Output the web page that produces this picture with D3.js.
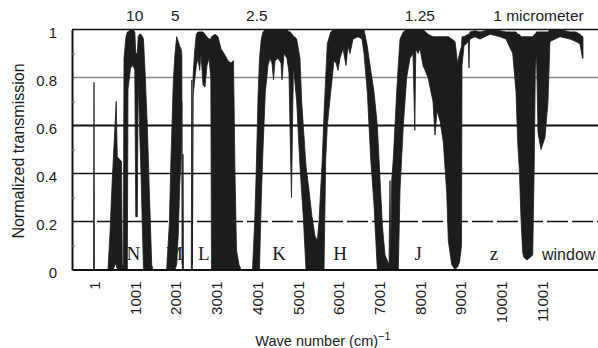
<!DOCTYPE html>
<html>
<head>
<meta charset="utf-8">
<script src="https://cdn.jsdelivr.net/npm/d3@7"></script>
<style>
  body { margin: 0; background: #fff; }
  svg { display: block; font-family: "Liberation Sans", Arial, sans-serif; }
</style>
</head>
<body>
<div id="chart"></div>
<script>
const waveNumber = [
  -10, 1, 13, 345, 394, 443, 475, 517, 546, 573, 676, 696, 720, 738, 787, 819, 836, 897, 958, 1003,
  1027, 1064, 1086, 1118, 1155, 1192, 1216, 1253, 1310, 1359, 1418, 1450,
  1786, 1850, 1891, 1948, 1990, 2031, 2071, 2105, 2137, 2157, 2169, 2186, 2198,
  2390, 2402, 2417, 2432, 2468, 2513, 2554, 2596, 2628, 2677, 2726, 2775, 2825, 2869,
  2886, 2972, 3046, 3119, 3193, 3291, 3365, 3426, 3463, 3500, 3561, 3610,
  3893, 3947, 3991, 4028, 4064, 4109, 4150, 4207, 4273, 4322, 4371, 4408, 4445, 4518, 4592, 4617,
  4666, 4739, 4788, 4825, 4850, 4874, 4899, 4923, 4977, 5058, 5100, 5139, 5206, 5280, 5353, 5427,
  5484, 5525, 5606, 5648, 5690, 5729, 5813, 5893, 5943, 5992, 6041, 6115, 6188, 6237, 6286, 6360,
  6483, 6581, 6630, 6711, 6795, 6876, 6957, 6999, 7080, 7146, 7244, 7268, 7288,
  7310, 7349, 7433, 7472, 7514, 7595, 7678, 7759, 7833, 7877, 7902, 7956, 8005, 8079, 8202, 8324,
  8373, 8423, 8496, 8577, 8661, 8700, 8784, 8865, 8926, 8975, 9024, 9036, 9085, 9190, 9208, 9220, 9233,
  9355, 9478, 9724, 9969, 10116, 10281, 10362, 10404, 10443, 10485, 10526, 10558, 10632, 10706,
  10772, 10811, 10836, 10865, 10902, 10975, 11073, 11147, 11196, 11442, 11687, 11834, 11933, 11994, 12006
];
const transHigh = [
  0, 0.78, 0, 0, 0.15, 0.35, 0.46, 0.6, 0.7, 0.47, 0.45, 0.02, 0.02, 0.88, 0.97, 0.99, 0.99, 1.0, 1.0, 0.99,
  0.9, 0.9, 0.97, 0.98, 0.98, 0.97, 0.96, 0.83, 0.6, 0.33, 0.02, 0,
  0, 0.19, 0.46, 0.78, 0.9, 0.97, 0.95, 0.93, 0.92, 0.9, 0.02, 0.48, 0,
  0, 0.79, 0.02, 0.8, 0.9, 0.98, 0.99, 0.99, 0.99, 0.99, 0.98, 0.97, 0.96, 0.96,
  0.97, 0.98, 0.97, 0.92, 0.9, 0.87, 0.86, 0.87, 0.4, 0.08, 0.02, 0,
  0, 0.2, 0.45, 0.72, 0.88, 0.96, 0.99, 1.0, 1.0, 1.0, 1.0, 1.0, 1.0, 1.0, 1.0, 1.0,
  1.0, 1.0, 0.99, 0.99, 0.98, 0.98, 0.97, 0.97, 0.96, 0.88, 0.7, 0.6, 0.43, 0.33, 0.22, 0.14,
  0.12, 0.2, 0.46, 0.65, 0.8, 0.94, 0.99, 1.0, 1.0, 1.0, 1.0, 1.0, 1.0, 1.0, 1.0, 1.0,
  1.0, 1.0, 1.0, 0.93, 0.83, 0.74, 0.6, 0.46, 0.185, 0.06, 0.02, 0.37, 0.05,
  0.37, 0.46, 0.74, 0.85, 0.96, 0.99, 1.0, 1.0, 1.0, 1.0, 1.0, 1.0, 1.0, 1.0, 0.98, 0.97,
  0.97, 0.97, 0.97, 0.97, 0.97, 0.97, 0.96, 0.95, 0.86, 0.9, 0.93, 0.97, 0.97, 0.98, 0.98, 0.98, 0.99,
  0.995, 0.99, 1.0, 0.995, 0.99, 0.99, 0.99, 0.98, 0.98, 0.97, 0.97, 0.97, 0.97, 0.97,
  0.97, 0.98, 0.98, 0.99, 0.99, 0.99, 0.99, 0.99, 1.0, 1.0, 0.99, 0.99, 0.98, 0.97, 0.97
];
const transLow = [
  0, 0, 0, 0, 0, 0, 0, 0.02, 0.02, 0, 0, 0, 0, 0, 0, 0, 0.75, 0.84, 0.85, 0.83,
  0.22, 0.22, 0.8, 0.6, 0.4, 0.15, 0, 0, 0, 0, 0, 0,
  0, 0, 0, 0, 0, 0.02, 0.15, 0.35, 0.46, 0.7, 0, 0, 0,
  0, 0, 0, 0.72, 0.78, 0.85, 0.88, 0.83, 0.9, 0.77, 0.76, 0.85, 0.88, 0.8,
  0, 0, 0, 0, 0, 0, 0, 0, 0, 0, 0, 0,
  0, 0, 0, 0, 0, 0.3, 0.5, 0.74, 0.85, 0.88, 0.86, 0.79, 0.87, 0.88, 0.86, 0.79,
  0.9, 0.88, 0.82, 0.5, 0.3, 0.6, 0.85, 0.8, 0.7, 0.43, 0.32, 0.22, 0, 0, 0, 0,
  0, 0, 0, 0, 0.46, 0.6, 0.74, 0.87, 0.86, 0.83, 0.88, 0.92, 0.85, 0.93, 0.9, 0.96,
  0.97, 0.96, 0.9, 0.74, 0.46, 0.27, 0, 0, 0, 0, 0, 0, 0,
  0, 0, 0, 0, 0.33, 0.6, 0.8, 0.88, 0.9, 0.58, 0.92, 0.9, 0.92, 0.85, 0.8, 0.7,
  0.56, 0.66, 0.62, 0.53, 0.32, 0.12, 0.02, 0, 0.01, 0.03, 0.1, 0.85, 0.93, 0.95, 0.84, 0.95, 0.96,
  0.97, 0.96, 0.98, 0.97, 0.96, 0.9, 0.74, 0.53, 0.42, 0.21, 0.07, 0.05, 0.04, 0.05,
  0.06, 0.46, 0.84, 0.9, 0.57, 0.5, 0.55, 0.7, 0.95, 0.97, 0.96, 0.95, 0.94, 0.88, 0.88
];

const yTicks = [0, 0.2, 0.4, 0.6, 0.8, 1];
const yMinorTicks = [0.1, 0.3, 0.5, 0.7, 0.9];
const xTicks = [1, 1001, 2001, 3001, 4001, 5001, 6001, 7001, 8001, 9001, 10001, 11001];
const wavelengths = [10, 5, 2.5, 1.25, 1];
const wavelengthLabels = ['10', '5', '2.5', '1.25', '1 micrometer'];
const bandNames = ['N', 'M', 'L', 'K', 'H', 'J', 'z'];
const bandWave = [966, 1977, 2697, 4548, 6041, 7961, 9822];

const width = 598;
const height = 348;

const x = d3.scaleLinear().domain([-539, 12375]).range([72, 598]);
const y = d3.scaleLinear().domain([0, 1]).range([269.5, 29.5]);

const svg = d3.select('#chart')
  .append('svg')
  .attr('width', width)
  .attr('height', height);

// horizontal gridlines, each one drawn a bit differently in the original
const gridStyle = {
  0.2: { color: '#111', w: 1.5, dash: '21,4' },
  0.4: { color: '#111', w: 1.5, dash: null },
  0.6: { color: '#111', w: 2, dash: null },
  0.8: { color: '#8a8a8a', w: 1.5, dash: null },
  1: { color: '#111', w: 1.5, dash: null }
};

svg.append('g')
  .attr('class', 'grid')
  .selectAll('line')
  .data(yTicks.filter(d => d > 0))
  .enter()
  .append('line')
  .attr('x1', x.range()[0])
  .attr('x2', x.range()[1])
  .attr('y1', d => y(d))
  .attr('y2', d => y(d))
  .attr('stroke', d => gridStyle[d].color)
  .attr('stroke-width', d => gridStyle[d].w)
  .attr('stroke-dasharray', d => gridStyle[d].dash);

const spectrum = waveNumber.map((w, i) => ({ w, lo: transLow[i], hi: transHigh[i] }));

const area = d3.area()
  .x(d => x(d.w))
  .y0(d => y(d.lo))
  .y1(d => y(d.hi));

svg.append('path')
  .datum(spectrum)
  .attr('class', 'spectrum')
  .attr('d', area)
  .attr('fill', '#1c1c1c')
  .attr('stroke', '#1c1c1c')
  .attr('stroke-width', 0.8)
  .attr('stroke-linejoin', 'round');

// band names sit just above the axis
svg.append('g')
  .attr('class', 'bands')
  .selectAll('text')
  .data(bandNames)
  .enter()
  .append('text')
  .attr('x', (d, i) => x(bandWave[i]))
  .attr('y', y(0.04))
  .attr('text-anchor', 'middle')
  .style('font-family', '"Liberation Serif", "Times New Roman", serif')
  .style('font-size', '19px')
  .attr('fill', '#1c1c1c')
  .text(d => d);

svg.append('text')
  .attr('x', x(11000))
  .attr('y', y(0.04))
  .style('font-size', '16px')
  .attr('fill', '#1c1c1c')
  .text('window');

// left axis
const yAxis = svg.append('g')
  .attr('transform', `translate(${x.range()[0]},0)`)
  .call(d3.axisLeft(y).tickValues(yTicks).tickSize(0).tickPadding(15).tickFormat(d => d));
yAxis.select('.domain').attr('stroke', '#111').attr('stroke-width', 2);
yAxis.selectAll('text')
  .style('font-size', '15px')
  .style('font-family', '"Liberation Sans", Arial, sans-serif')
  .attr('fill', '#1c1c1c')
  .attr('dy', '0.5em');

svg.append('g')
  .attr('transform', `translate(${x.range()[0]},0)`)
  .call(d3.axisRight(y).tickValues(yMinorTicks).tickSize(3).tickFormat(''))
  .call(g => g.select('.domain').remove())
  .selectAll('line')
  .attr('stroke', '#777');

// bottom axis, labels turned on their side
const xAxis = svg.append('g')
  .attr('transform', `translate(0,${y(0)})`)
  .call(d3.axisBottom(x).tickValues(xTicks).tickSize(0).tickSizeOuter(0).tickFormat(d3.format('d')));
xAxis.select('.domain').attr('stroke', '#111').attr('stroke-width', 2);
xAxis.selectAll('text')
  .attr('transform', 'rotate(-90)')
  .attr('text-anchor', 'end')
  .attr('x', -12)
  .attr('y', 0)
  .attr('dy', '0.36em')
  .style('font-size', '15px')
  .style('font-family', '"Liberation Sans", Arial, sans-serif')
  .attr('fill', '#1c1c1c');

// wavelength markers above the frame
svg.append('g')
  .attr('class', 'wavelengths')
  .selectAll('text')
  .data(wavelengths)
  .enter()
  .append('text')
  .attr('x', d => x(1e4 / d))
  .attr('dx', (d, i) => i === wavelengths.length - 1 ? -8 : 0)
  .attr('y', 21)
  .attr('text-anchor', (d, i) => i === wavelengths.length - 1 ? 'start' : 'middle')
  .style('font-size', '15.5px')
  .attr('fill', '#1c1c1c')
  .text((d, i) => wavelengthLabels[i]);

svg.append('text')
  .attr('transform', 'translate(23.5,151) rotate(-90)')
  .attr('text-anchor', 'middle')
  .style('font-size', '16px')
  .attr('fill', '#1c1c1c')
  .text('Normalized transmission');

const xTitle = svg.append('text')
  .attr('x', 323)
  .attr('y', 346)
  .attr('text-anchor', 'middle')
  .style('font-size', '14.5px')
  .attr('fill', '#1c1c1c')
  .text('Wave number (cm)');
xTitle.append('tspan')
  .attr('dy', -6)
  .style('font-size', '11px')
  .text('\u22121');
</script>
</body>
</html>
